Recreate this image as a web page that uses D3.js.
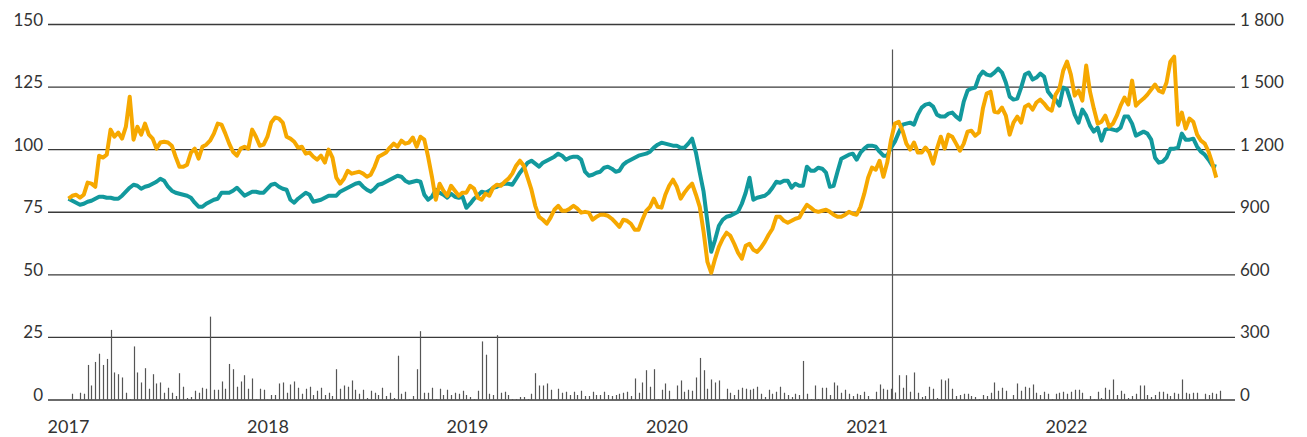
<!DOCTYPE html>
<html>
<head>
<meta charset="utf-8">
<script src="https://cdn.jsdelivr.net/npm/d3@7"></script>
<style>
  body { margin: 0; background: #fff; }
  text { font-family: Lato, "Open Sans", sans-serif; fill: #333; }
</style>
</head>
<body>
<script>
// weekly observations, first one on lineStart
var lineStart = "2017-01-01";
var barStart = "2017-01-08";
var markerDate = "2021-02-15";
var markerTop = 140;

// teal series, read on the left axis
var teal = [
  80.4,79.6,78.8,78,78.4,79.2,79.6,80.4,81.2,81.2,
  80.8,80.8,80.4,80.4,81.6,83.2,84.8,86,85.6,84.4,
  85.2,85.6,86.4,87.2,88.4,87.6,85.2,83.6,82.8,82.4,
  82,81.6,80.8,78.8,77.2,77.2,78.4,79.2,80,80.4,
  82.8,82.8,82.8,83.6,84.8,83.2,81.6,82.4,83.2,83.2,
  82.8,82.8,84.4,86,86.4,85.2,84.4,84,80,78.8,
  80.4,81.6,82.8,82,79.2,79.6,80,80.8,81.6,81.6,
  81.6,83.2,84,84.8,85.6,86.4,86.8,85.2,84,83.2,
  84.4,86,86.4,87.2,88,88.8,89.6,89.2,87.6,86.8,
  87.2,87.6,87.2,82,80,81.2,84,82.8,82,80.8,
  82.4,81.2,80.8,81.2,76.8,78.4,80.4,81.6,83.2,82.8,
  83.6,84.8,85.2,86,86.4,86.4,86,88.4,90.8,92.8,
  94.8,95.6,94.4,93.2,94.8,95.6,96.4,97.2,98.4,97.6,
  96,96.8,97.2,97.2,96,91.2,89.6,90,90.8,91.2,
  92.8,93.2,92.4,91.2,91.6,94,95.2,96,96.8,97.6,
  98,98.4,99.2,100.8,102,102.8,102.4,102,101.6,101.6,
  100.8,100.8,102.4,104.4,98.8,90.8,83.2,71.2,59.2,64,
  69.6,72,73.2,73.6,74.4,75.2,78.4,82.8,88.8,80,
  80.8,81.2,81.6,82.8,84.8,87.2,86.8,87.6,87.6,84.8,
  86.4,85.6,85.6,93.2,91.6,91.6,92.8,92.4,90.8,85.2,
  85.6,91.2,96.4,97.2,98,98.4,96,98.8,100.4,101.6,
  101.6,101.2,99.2,97.6,97.6,100.8,103.2,106.8,110,110.4,
  110.8,110,114,116.8,118,118.4,117.2,114,113.2,113.2,
  114.4,114.8,113.2,112,119.2,123.6,124.4,124.8,129.2,131.2,
  130,129.6,130.8,132.4,130.8,126.8,121.2,120,120.4,124.8,
  130,130.8,128,128.8,130.4,129.2,123.2,121.2,120,117.6,
  124.8,124,119.2,114,110.8,116,113.6,109.6,107.2,108.8,
  103.6,108,108.4,108,107.6,108.8,113.2,113.2,110.4,105.6,
  106.4,107.2,106.4,104,96.8,94.8,95.2,96.8,100.4,100.4,
  100.8,106.4,104,104,104.4,101.2,99.2,98,96,93.6,
  93.2
];

// orange series, read on the right axis
var orange = [
  965,979,984,970,984,1042,1037,1022,1171,1162,
  1176,1296,1262,1282,1253,1310,1454,1248,1310,1272,
  1325,1272,1253,1205,1234,1238,1234,1219,1166,1118,
  1118,1128,1186,1205,1157,1214,1224,1243,1277,1325,
  1320,1277,1229,1190,1171,1205,1214,1205,1296,1262,
  1219,1224,1262,1330,1354,1349,1330,1262,1253,1238,
  1210,1214,1181,1186,1166,1152,1171,1138,1200,1162,
  1066,1037,1061,1099,1085,1090,1094,1085,1070,1080,
  1118,1166,1176,1186,1210,1229,1214,1243,1229,1234,
  1258,1214,1262,1248,1166,1070,960,1037,1003,979,
  1027,1003,979,994,994,1027,1013,970,960,989,
  979,1018,1032,1027,1046,1061,1085,1123,1147,1123,
  1066,1008,931,878,864,845,874,912,931,907,
  907,917,931,917,898,902,898,864,878,888,
  888,883,869,850,830,864,859,845,816,816,
  864,907,926,965,926,922,984,1027,1056,1022,
  965,994,1018,1037,984,926,806,662,610,677,
  734,773,802,787,749,706,677,739,749,720,
  710,730,758,792,821,878,878,859,850,859,
  869,874,907,936,922,907,902,907,912,902,
  888,878,878,888,902,893,888,926,989,1066,
  1114,1104,1147,1070,1138,1248,1325,1334,1291,1229,
  1200,1234,1186,1186,1210,1186,1133,1205,1262,1205,
  1272,1262,1229,1195,1229,1286,1291,1267,1282,1397,
  1469,1478,1382,1378,1402,1363,1272,1330,1358,1330,
  1406,1416,1392,1426,1440,1421,1397,1387,1464,1493,
  1579,1622,1560,1459,1483,1435,1603,1478,1397,1325,
  1334,1363,1310,1325,1363,1411,1450,1416,1531,1411,
  1430,1445,1464,1488,1512,1483,1474,1522,1622,1646,
  1320,1378,1301,1349,1334,1272,1243,1229,1190,1133,
  1066
];

// weekly volume, read on the left axis
var volume = [
  2.5,0.4,2.9,2.5,14,5.8,15.2,18.5,14,16.4,
  28,11,10.3,9,2.9,0.4,21.4,11,7,12.7,
  4.5,10.3,6.6,7,2.9,4.9,2.9,1.6,10.7,5.3,
  0.8,1.2,3.7,2.9,4.9,4.5,33.3,4.1,4.1,7.4,
  4.5,14.4,12.3,5.3,7.4,9.9,4.5,8.6,0.4,4.5,
  4.1,0.2,2,2,6.6,7,2.9,6.2,7.4,4.9,
  2.5,4.5,5.3,2,3.7,4.9,2,2.9,1.6,12.3,
  4.5,5.8,5.3,7.8,4.1,2.5,4.1,0.8,3.7,2.9,
  2,4.9,1.6,2.9,0.8,17.7,2.5,3.3,0.4,1.6,
  12.3,27.5,2.9,2.9,4.9,0.4,4.5,2,4.1,2,
  2.9,2.5,3.7,2,1.2,0.4,3.7,23.4,18.1,2.5,
  2,25.9,2.9,3.3,2,0.4,0.4,1.2,1.2,0.4,
  2.5,10.7,5.8,5.8,6.6,4.1,0.4,4.5,2.9,3.3,
  2,3.3,2,3.7,1.6,1.6,3.3,2,2,3.3,
  2,1.6,2,2.5,2.9,3.3,1.6,8.6,2.9,7,
  11.9,5.3,12.3,0.4,4.1,6.6,3.7,0.4,5.8,7.8,
  3.3,4.1,3.7,9,16.8,11.9,4.5,8.2,7,7.8,
  0.4,4.5,2.9,2,4.1,4.9,4.5,4.1,4.5,5.3,
  2.5,1.2,4.1,2.5,3.3,5.3,2.9,2,1.2,2.5,
  2,15.6,2.5,0.4,5.8,0.4,4.9,4.9,2,7,
  5.8,2.9,4.1,2.5,1.6,2.5,2,3.3,1.6,0.4,
  3.3,6.2,4.5,4.1,4.5,3,9.9,4.9,9.9,3.3,
  11,2.9,1.2,1.6,5.3,4.5,0.8,8.2,7.8,8.6,
  4.5,1.6,2,2.5,2.5,1.6,1.2,0.4,2,1.6,
  2.9,7,3.7,4.9,3.7,0.4,2,6.6,3.7,5.3,
  4.9,6.2,2.9,2,3.3,2.5,0.4,2.5,2.9,3.3,
  2.5,3.3,4.1,4.1,2.9,0.4,1.6,0.4,3.3,0.8,
  4.9,4.1,8.2,2,3.7,2.5,0.8,1.6,2.5,5.8,
  5.8,2,1.2,2,3.3,3.3,2.5,1.6,2.9,2.5,
  8.2,2.9,2.5,2.9,2.9,0,2.5,2,2.9,2.5,
  3.7
];

var leftTicks = [0, 25, 50, 75, 100, 125, 150];
var rightTicks = [0, 300, 600, 900, 1200, 1500, 1800];
var years = [2017, 2018, 2019, 2020, 2021, 2022];

var width = 1307;
var height = 437;
var gridLeft = 48;
var gridRight = 1235;

var parse = d3.timeParse("%Y-%m-%d");

var svg = d3.select('body').append('svg')
      .attr('width', width)
      .attr('height', height);

var x = d3.scaleTime()
      .domain([new Date(2017, 0, 1), new Date(2022, 0, 1)])
      .range([68.5, 1066.5]);
var yLeft = d3.scaleLinear().domain([0, 150]).range([400, 24.5]);
var yRight = d3.scaleLinear().domain([0, 1800]).range([400, 24.5]);

// gridlines + left labels
svg.append('g').selectAll('line')
    .data(leftTicks)
    .enter()
    .append('line')
    .attr('x1', gridLeft)
    .attr('x2', gridRight)
    .attr('y1', function (d) { return yLeft(d); })
    .attr('y2', function (d) { return yLeft(d); })
    .attr('stroke', '#3a3a3a')
    .attr('stroke-width', 1.3);

svg.append('g').selectAll('text')
    .data(leftTicks)
    .enter()
    .append('text')
    .attr('x', 43)
    .attr('y', function (d) { return yLeft(d) + 1; })
    .attr('text-anchor', 'end')
    .style('font-size', '17px')
    .text(function (d) { return d; });

var fmtRight = function (d) {
  var s = String(d);
  return s.length > 3 ? s.slice(0, s.length - 3) + ' ' + s.slice(-3) : s;
};

svg.append('g').selectAll('text')
    .data(rightTicks)
    .enter()
    .append('text')
    .attr('x', 1240)
    .attr('y', function (d) { return yRight(d) + 1; })
    .style('font-size', '17px')
    .text(fmtRight);

// year labels
svg.append('g').selectAll('text')
    .data(years)
    .enter()
    .append('text')
    .attr('x', function (d) { return x(new Date(d, 0, 1)); })
    .attr('y', 433)
    .attr('text-anchor', 'middle')
    .style('font-size', '18px')
    .text(function (d) { return d; });

// volume bars
var barDay0 = parse(barStart);
svg.append('g').selectAll('line')
    .data(volume)
    .enter()
    .append('line')
    .attr('x1', function (d, i) { return Math.round(x(d3.timeDay.offset(barDay0, 7 * i))) + 0.5; })
    .attr('x2', function (d, i) { return Math.round(x(d3.timeDay.offset(barDay0, 7 * i))) + 0.5; })
    .attr('y1', yLeft(0))
    .attr('y2', function (d) { return yLeft(d); })
    .attr('stroke', '#555')
    .attr('stroke-width', 1.2);

// marker line
var mx = Math.round(x(parse(markerDate))) + 0.5;
svg.append('line')
    .attr('x1', mx).attr('x2', mx)
    .attr('y1', yLeft(0)).attr('y2', yLeft(markerTop))
    .attr('stroke', '#555')
    .attr('stroke-width', 1.2);

// the two price lines
var lineDay0 = parse(lineStart);
var tealLine = d3.line()
    .x(function (d, i) { return x(d3.timeDay.offset(lineDay0, 7 * i)); })
    .y(function (d) { return yLeft(d); });
var orangeLine = d3.line()
    .x(function (d, i) { return x(d3.timeDay.offset(lineDay0, 7 * i)); })
    .y(function (d) { return yRight(d); });

svg.append('path')
    .datum(teal)
    .attr('d', tealLine)
    .attr('fill', 'none')
    .attr('stroke', '#12999d')
    .attr('stroke-width', 4)
    .attr('stroke-linejoin', 'round');

svg.append('path')
    .datum(orange)
    .attr('d', orangeLine)
    .attr('fill', 'none')
    .attr('stroke', '#f6a800')
    .attr('stroke-width', 4)
    .attr('stroke-linejoin', 'round');
</script>
</body>
</html>
